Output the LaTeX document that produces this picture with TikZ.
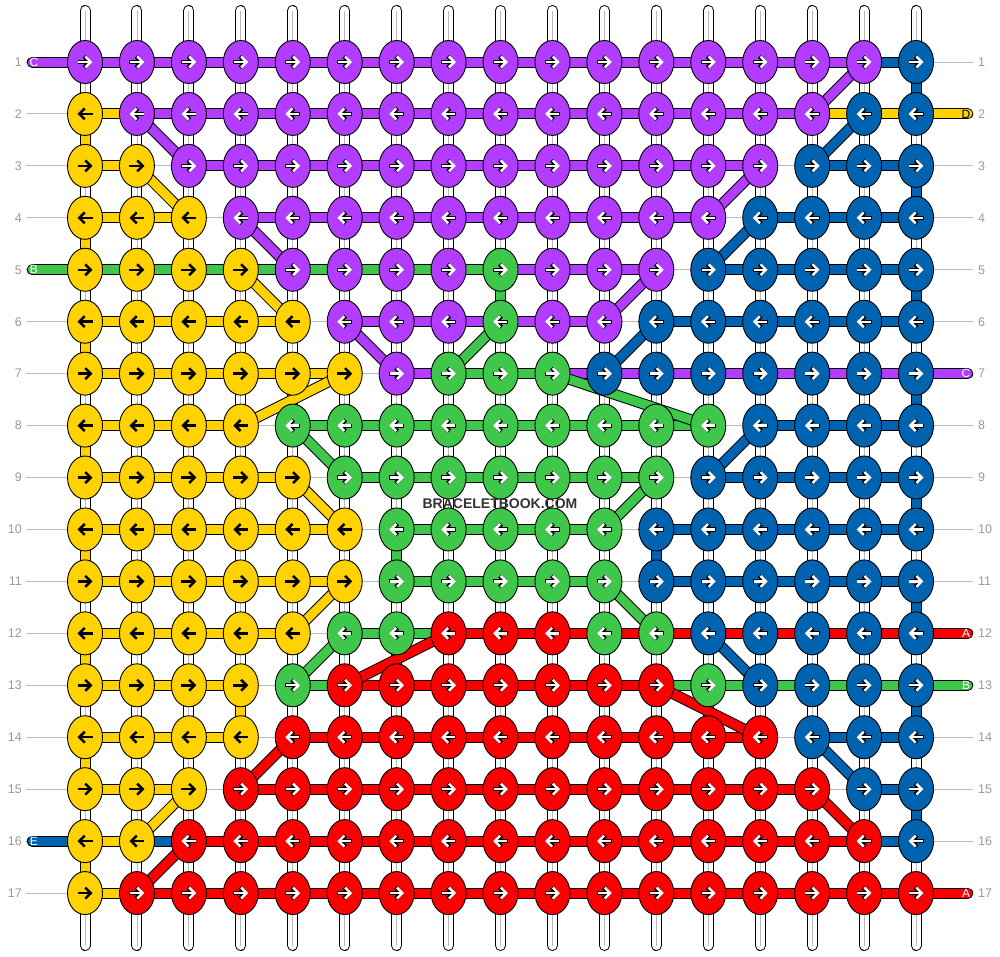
\documentclass[tikz,border=0pt]{standalone}
\usepackage{fontspec}
\setmainfont{Liberation Sans}
\definecolor{knotP}{HTML}{B23CFF}
\definecolor{knotY}{HTML}{FFD200}
\definecolor{knotG}{HTML}{3FC74B}
\definecolor{knotB}{HTML}{0063AF}
\definecolor{knotR}{HTML}{FA0000}
\definecolor{guidegray}{HTML}{BBBBBB}
\definecolor{numgray}{HTML}{999999}
\usetikzlibrary{shapes.geometric}
\usetikzlibrary{backgrounds}
\usetikzlibrary{arrows.meta}

\begin{document}
\begin{tikzpicture}[x=1pt, y=-1pt,
  knot/.style={ellipse, draw=black, line width=0.9pt, minimum width=35pt, minimum height=43pt, inner sep=0pt},
  band/.style={draw=black, line width=1pt, double=#1, double distance=9pt},
  base/.style={draw=black, line width=1pt, double=white, double distance=9pt, line cap=round},
  guide/.style={draw=guidegray, line width=1pt},
  rownum/.style={text=numgray, font=\fontsize{12.5}{14}\selectfont, inner sep=0pt},
  tagtext/.style={font=\fontsize{12}{14}\selectfont, inner sep=0pt},
  tipdark/.style={draw=black, line width=2.5pt, -{Straight Barb[length=5.5pt,width=11pt]}},
  tiprim/.style={draw=black, line width=4.1pt, -{Straight Barb[length=5.5pt,width=11pt]}},
  tiplight/.style={draw=white, line width=2.4pt, shorten <=0.8pt, -{Straight Barb[length=5.5pt,width=11pt]}}]
  \useasboundingbox (0,0) rectangle (1000,956);

  % Knots
  \foreach \r/\row in {
    1/{P,P,P,P,P,P,P,P,P,P,P,P,P,P,P,P,B},
    2/{Y,P,P,P,P,P,P,P,P,P,P,P,P,P,P,B,B},
    3/{Y,Y,P,P,P,P,P,P,P,P,P,P,P,P,B,B,B},
    4/{Y,Y,Y,P,P,P,P,P,P,P,P,P,P,B,B,B,B},
    5/{Y,Y,Y,Y,P,P,P,P,G,P,P,P,B,B,B,B,B},
    6/{Y,Y,Y,Y,Y,P,P,P,G,P,P,B,B,B,B,B,B},
    7/{Y,Y,Y,Y,Y,Y,P,G,G,G,B,B,B,B,B,B,B},
    8/{Y,Y,Y,Y,G,G,G,G,G,G,G,G,G,B,B,B,B},
    9/{Y,Y,Y,Y,Y,G,G,G,G,G,G,G,B,B,B,B,B},
    10/{Y,Y,Y,Y,Y,Y,G,G,G,G,G,B,B,B,B,B,B},
    11/{Y,Y,Y,Y,Y,Y,G,G,G,G,G,B,B,B,B,B,B},
    12/{Y,Y,Y,Y,Y,G,G,R,R,R,G,G,B,B,B,B,B},
    13/{Y,Y,Y,Y,G,R,R,R,R,R,R,R,G,B,B,B,B},
    14/{Y,Y,Y,Y,R,R,R,R,R,R,R,R,R,R,B,B,B},
    15/{Y,Y,Y,R,R,R,R,R,R,R,R,R,R,R,R,B,B},
    16/{Y,Y,R,R,R,R,R,R,R,R,R,R,R,R,R,R,B},
    17/{Y,R,R,R,R,R,R,R,R,R,R,R,R,R,R,R,R}} {
    \pgfmathsetmacro\d{1-2*mod(\r+1,2)}
    \foreach \k [count=\c] in \row {
      \node[knot, fill=knot\k] (k-\r-\c) at ({85+(\c-1)*51.94},{62+(\r-1)*51.94}) {};
      \if\k Y
        \draw[tipdark] (k-\r-\c.center) ++({-7.5*\d},0) -- ++({15*\d},0);
      \else
        \draw[tiprim] (k-\r-\c.center) ++({-7.5*\d},0) -- ++({15*\d},0);
        \draw[tiplight] (k-\r-\c.center) ++({-7.5*\d},0) -- ++({15*\d},0);
      \fi
    }
  }

  % Row numbers
  \foreach \r in {1,...,17} {
    \node[rownum, anchor=east] (nl-\r) at (22,{62+(\r-1)*51.94}) {\r};
    \node[rownum, anchor=west] (nr-\r) at (978,{62+(\r-1)*51.94}) {\r};
  }

  \begin{scope}[on background layer]
    % Guides and base strings
    \foreach \r in {1,...,17} {
      \coordinate (gl-\r) at (26,{62+(\r-1)*51.94});
      \coordinate (gr-\r) at (973,{62+(\r-1)*51.94});
      \draw[guide] (gl-\r) -- (gr-\r);
    }
    \foreach \c in {1,...,17} {
      \coordinate (top-\c) at ({85+(\c-1)*51.94},10.5);
      \coordinate (bot-\c) at ({85+(\c-1)*51.94},945.5);
      \draw[base] (top-\c) -- (bot-\c);
      \draw[guidegray, line width=0.8pt] (top-\c) -- (bot-\c);
    }

    % Horizontal pieces (N = none)
    \foreach \r/\row in {
      1/{P,P,P,P,P,P,P,P,P,P,P,P,P,P,P,B},
      2/{Y,P,P,P,P,P,P,P,P,P,P,P,P,P,Y,Y},
      3/{Y,N,P,P,P,P,P,P,P,P,P,P,P,N,B,B},
      4/{Y,Y,N,P,P,P,P,P,P,P,P,P,N,B,B,B},
      5/{G,G,G,G,G,G,G,G,P,P,P,N,B,B,B,B},
      6/{Y,Y,Y,Y,N,P,P,P,P,P,N,B,B,B,B,B},
      7/{Y,Y,Y,Y,Y,N,P,G,G,P,P,P,P,P,P,P},
      8/{Y,Y,Y,N,G,G,G,G,G,G,G,G,N,B,B,B},
      9/{Y,Y,Y,Y,N,G,G,G,G,G,G,N,B,B,B,B},
      10/{Y,Y,Y,Y,Y,N,G,G,G,G,N,B,B,B,B,B},
      11/{Y,Y,Y,Y,Y,N,G,G,G,G,N,B,B,B,B,B},
      12/{Y,Y,Y,Y,N,G,G,R,R,R,R,R,R,R,R,R},
      13/{Y,Y,Y,N,G,R,R,R,R,R,R,G,G,G,G,G},
      14/{Y,Y,Y,N,R,R,R,R,R,R,R,R,R,N,B,B},
      15/{Y,Y,N,R,R,R,R,R,R,R,R,R,R,R,N,B},
      16/{Y,B,R,R,R,R,R,R,R,R,R,R,R,R,R,B},
      17/{Y,R,R,R,R,R,R,R,R,R,R,R,R,R,R,R}} {
      \foreach \h [count=\c] in \row {
        \pgfmathtruncatemacro\cn{\c+1}
        \if\h N\else
          \draw[band=knot\h] (k-\r-\c.center) -- (k-\r-\cn.center);
        \fi
      }
    }

    % Vertical pieces
    \foreach \r/\c/\k in {1/17/B, 2/1/Y, 3/17/B, 4/1/Y, 5/9/G, 5/17/B, 6/1/Y,
      7/17/B, 8/1/Y, 9/17/B, 10/1/Y, 10/7/G, 10/12/B, 11/17/B, 12/1/Y,
      13/4/Y, 13/17/B, 14/1/Y, 15/17/B, 16/1/Y} {
      \pgfmathtruncatemacro\rn{\r+1}
      \draw[band=knot\k] (k-\r-\c.center) -- (k-\rn-\c.center);
    }

    % Diagonal pieces
    \foreach \ra/\ca/\rb/\cb/\k in {1/16/2/15/P, 2/16/3/15/B, 2/2/3/3/P,
      3/2/4/3/Y, 3/14/4/13/P, 4/4/5/5/P, 4/14/5/13/B, 5/4/6/5/Y, 5/12/6/11/P,
      6/6/7/7/P, 6/9/7/8/G, 6/12/7/11/B, 7/6/8/4/Y, 7/10/8/13/G, 8/5/9/6/G,
      8/14/9/13/B, 9/5/10/6/Y, 9/12/10/11/G, 11/6/12/5/Y, 11/11/12/12/G,
      12/6/13/5/G, 12/8/13/6/R, 12/13/13/14/B, 13/12/14/14/R, 14/5/15/4/R,
      14/15/15/16/B, 15/3/16/2/Y, 15/15/16/16/R, 16/3/17/2/R} {
      \draw[band=knot\k] (k-\ra-\ca.center) -- (k-\rb-\cb.center);
    }

    % String ends
    \foreach \r/\k in {1/P, 5/G, 16/B} {
      \coordinate (tagL-\r) at (32.2,{62+(\r-1)*51.94});
      \draw[band=knot\k, line cap=round] (tagL-\r) -- (k-\r-1.center);
    }
    \foreach \r/\k in {2/Y, 7/P, 12/R, 13/G, 17/R} {
      \coordinate (tagR-\r) at (967.8,{62+(\r-1)*51.94});
      \draw[band=knot\k, line cap=round] (k-\r-17.center) -- (tagR-\r);
    }
  \end{scope}

  % Labels
  \foreach \r/\t/\tc in {1/C/white, 5/B/white, 16/E/white} {
    \node[tagtext, text=\tc] (tl-\r) at (34,{62+(\r-1)*51.94}) {\t};
  }
  \foreach \r/\t/\tc in {2/D/black, 7/C/white, 12/A/white, 13/B/white, 17/A/white} {
    \node[tagtext, text=\tc] (tr-\r) at (966,{62+(\r-1)*51.94}) {\t};
  }
  \node[font=\bfseries\fontsize{14}{16}\selectfont, text=black!80] (mark) at (500,503.5) {BRACELETBOOK.COM};
\end{tikzpicture}
\end{document}
